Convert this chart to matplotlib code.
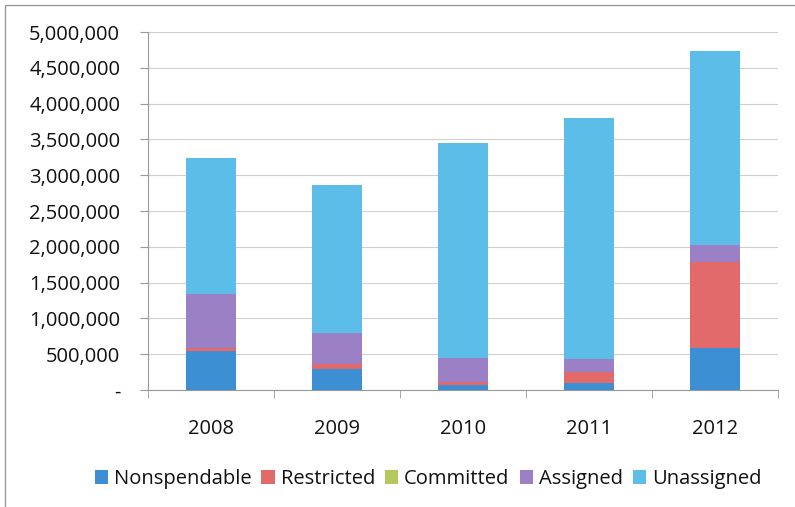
import matplotlib
matplotlib.use("Agg")
import matplotlib.pyplot as plt
from matplotlib.ticker import FuncFormatter, FixedLocator
from matplotlib.patches import Rectangle

years = ["2008", "2009", "2010", "2011", "2012"]
nonspendable = [545000, 293000, 70000, 100000, 587000]
restricted = [42000, 70000, 40000, 150000, 1203000]
committed = [0, 0, 0, 0, 0]
assigned = [753000, 433000, 337000, 180000, 230000]
unassigned = [1900000, 2064000, 3003000, 3370000, 2710000]

series_names = ["Nonspendable", "Restricted", "Committed", "Assigned", "Unassigned"]
colors = ["#3d8fd4", "#e36a6a", "#b3c95b", "#9b80c6", "#5cbde8"]

plt.rcParams['font.family'] = ['Open Sans', 'DejaVu Sans']
FS = 14.5

fig = plt.figure(figsize=(7.95, 5.07), dpi=100)
ax = fig.add_axes([148/795, 1-390/507, (778-148)/795, (390-32)/507])

x = list(range(len(years)))
bottoms = [0]*len(years)
handles = []
for name, vals, c in zip(series_names, [nonspendable, restricted, committed, assigned, unassigned], colors):
    b = ax.bar(x, vals, width=0.4, bottom=bottoms, color=c, label=name, zorder=3)
    handles.append(b)
    bottoms = [bo + v for bo, v in zip(bottoms, vals)]

ax.set_ylim(0, 5000000)
ax.set_xlim(-0.5, len(years) - 0.5)
ax.yaxis.set_major_locator(FixedLocator([i*500000 for i in range(11)]))
ax.yaxis.set_major_formatter(FuncFormatter(lambda v, p: "-" if v == 0 else f"{int(v):,}"))
ax.grid(axis='y', color='#d0d0d0', linewidth=0.8, zorder=0)
ax.set_xticks(x)
ax.set_xticklabels(years)
ax.xaxis.set_minor_locator(FixedLocator([i - 0.5 for i in range(len(years)+1)]))
ax.tick_params(axis='x', which='major', length=0, labelsize=FS, pad=21, colors='#111111')
ax.tick_params(axis='x', which='minor', length=6, color='#999999')
ax.tick_params(axis='y', length=6, color='#999999', labelsize=FS, pad=14, labelcolor='#111111')
for s in ['top', 'right']:
    ax.spines[s].set_visible(False)
ax.spines['left'].set_color('#999999')
ax.spines['bottom'].set_color('#999999')

leg = fig.legend(handles=handles, labels=series_names, loc='center', bbox_to_anchor=(428/795, 1-479/507),
                 ncol=5, frameon=False, fontsize=FS, handlelength=0.65, handleheight=0.65,
                 handletextpad=0.3, columnspacing=0.5)
for t in leg.get_texts():
    t.set_color('#111111')

fig.patches.append(Rectangle((5/795, -0.05), 1.1, 1-5/507+0.05, transform=fig.transFigure,
                             fill=False, edgecolor='#999999', linewidth=1.0))

fig.savefig("out.png", dpi=100)
